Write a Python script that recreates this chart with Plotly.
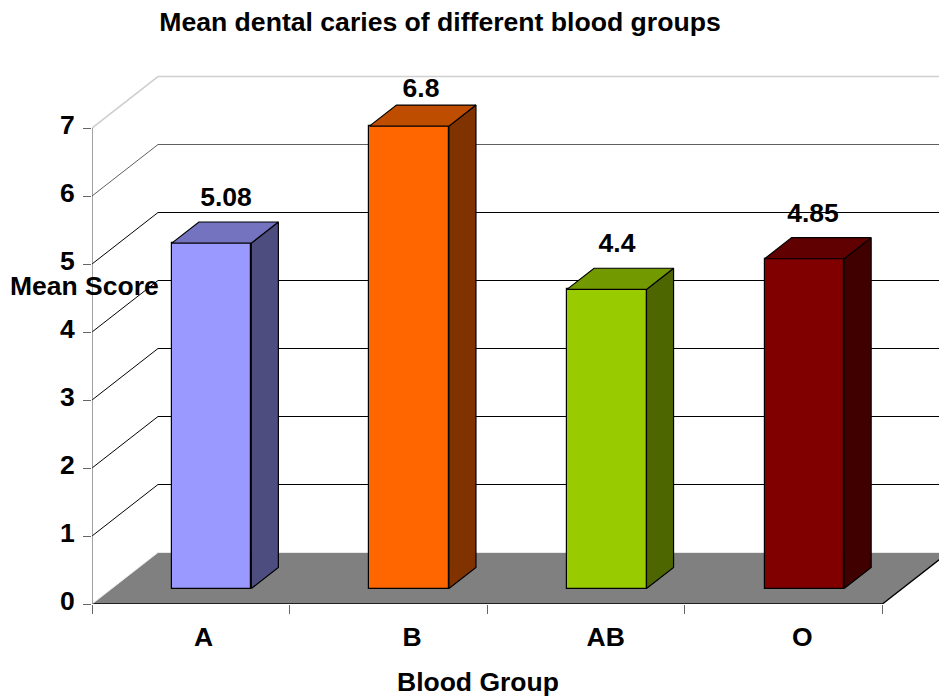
import plotly.graph_objects as go

categories = ["A", "B", "AB", "O"]
values = [5.08, 6.8, 4.4, 4.85]
value_labels = ["5.08", "6.8", "4.4", "4.85"]
front_colors = ["#9999FF", "#FF6600", "#99CC00", "#800000"]
side_colors = ["#4D4D80", "#803300", "#4D6600", "#400000"]
top_colors = ["#7373BF", "#BF4D00", "#739900", "#600000"]
y_ticks = [0, 1, 2, 3, 4, 5, 6, 7]
label_raise = [0.33, 0.22, 0.33, 0.33]
label_xs = [0.678, 1.665, 2.657, 3.649]
label_positions = [0.565, 1.62, 2.60, 3.595]

FONT = "Liberation Sans"
PX_X = 197.6
PX_Y = 68.0
DX = 66 / PX_X      # full floor depth, in x units
DY = 51.5 / PX_Y    # full floor depth, in y units
BAR_D0 = 0.30       # bar front depth
BAR_D1 = 0.71       # bar back depth
BAR_W = 79.5 / PX_X
BAR_C = 0.105       # front-face centre offset from category centre

L, T, B = 92, 61, 92
X_MAX = (939 - L) / PX_X
Y_MAX = (696 - B - T) / PX_Y
n = len(categories)


def proj(x, v, d):
    return x + d * DX, v + d * DY


def wall_shape(pts, **kw):
    path = "M " + " L ".join(f"{a:.4f},{b:.4f}" for a, b in pts)
    return dict(type="path", path=path, xref="x", yref="y", layer="below", **kw)


def px_x(px):
    return (px - L) / (939 - L)


def px_y(py):
    return (696 - B - py) / (696 - B - T)


shapes = []
# floor
fl = [proj(0, 0, 0), proj(n, 0, 0), proj(n, 0, 1), proj(0, 0, 1)]
shapes.append(wall_shape(fl + [fl[0]], fillcolor="#808080", line=dict(width=0)))
# floor front and right edge
shapes.append(wall_shape([proj(0, 0, 0), proj(n, 0, 0), proj(n, 0, 1)], line=dict(color="#000", width=1.4)))
# wall gridlines
for v in y_ticks[1:]:
    col = "#D0D0D0" if v == 7 else ("#606060" if v == 6 else "#000000")
    shapes.append(wall_shape([proj(0, v, 0), proj(0, v, 1), proj(X_MAX + 1, v, 1)],
                             line=dict(color=col, width=1 if v != 7 else 1.6)))
# floor back edge
shapes.append(wall_shape([proj(0, 0, 0), proj(0, 0, 1), proj(X_MAX + 1, 0, 1)],
                         line=dict(color="#E8E8E8", width=1)))
# value axis
shapes.append(wall_shape([proj(0, 0, 0), proj(0, 7, 0)], line=dict(color="#444", width=1)))

fig = go.Figure()

centers = [i + 0.5 + BAR_C for i in range(n)]
base = BAR_D0 * DY
fig.add_trace(go.Bar(
    x=[c for c in centers],
    y=values,
    base=base,
    width=BAR_W,
    marker=dict(color=front_colors, line=dict(color="#000", width=1.2)),
    xaxis="x", yaxis="y", showlegend=False, hoverinfo="skip",
))

ddx = (BAR_D1 - BAR_D0) * DX
ddy = (BAR_D1 - BAR_D0) * DY
for i, v in enumerate(values):
    xl = centers[i] - BAR_W / 2
    xr = centers[i] + BAR_W / 2
    yb = base
    yt = base + v
    # side
    fig.add_trace(go.Scatter(
        x=[xr, xr + ddx, xr + ddx, xr, xr], y=[yb, yb + ddy, yt + ddy, yt, yb],
        mode="lines", fill="toself", fillcolor=side_colors[i],
        line=dict(color="#000", width=1.2), showlegend=False, hoverinfo="skip"))
    # top
    fig.add_trace(go.Scatter(
        x=[xl, xr, xr + ddx, xl + ddx, xl], y=[yt, yt, yt + ddy, yt + ddy, yt],
        mode="lines", fill="toself", fillcolor=top_colors[i],
        line=dict(color="#000", width=1.2), showlegend=False, hoverinfo="skip"))

tick_font = dict(family=FONT, size=26.5, color="#000", weight="bold")

fig.add_trace(go.Scatter(
    x=label_xs,
    y=[base + v + ddy + r for v, r in zip(values, label_raise)],
    mode="text", text=value_labels,
    textfont=tick_font,
    showlegend=False, hoverinfo="skip", cliponaxis=False))

fig.update_layout(
    width=939, height=696,
    margin=dict(l=L, r=0, t=T, b=B, pad=0),
    paper_bgcolor="#fff", plot_bgcolor="#fff",
    bargap=0,
    shapes=shapes,
    title=dict(text="Mean dental caries of different blood groups",
               x=440 / 939, y=1 - 22 / 696, xanchor="center", yanchor="middle",
               font=dict(family=FONT, size=26.6, color="#000", weight="bold")),
    xaxis=dict(range=[0, X_MAX], tickmode="array", tickvals=list(range(n + 1)),
               ticktext=[""] * (n + 1), ticks="outside", ticklen=9, tickcolor="#666",
               tickwidth=1, showgrid=False, zeroline=False, showline=False),
    xaxis2=dict(range=[0, X_MAX], overlaying="x", side="bottom", anchor="y",
                tickmode="array", tickvals=label_positions, ticktext=categories,
                ticks="", showgrid=False, zeroline=False, showline=False,
                tickfont=tick_font, ticklabelstandoff=14),
    yaxis=dict(range=[0, Y_MAX], tickmode="array", tickvals=y_ticks,
               ticks="outside", ticklen=8, tickcolor="#666", tickwidth=1,
               showgrid=False, zeroline=False, showline=False,
               tickfont=tick_font, ticklabelstandoff=3, ticklabelshift=-3),
    annotations=[
        dict(text="Mean Score", x=px_x(84), y=px_y(286), xref="paper", yref="paper",
             xanchor="center", yanchor="middle", showarrow=False, font=tick_font),
        dict(text="Blood Group", x=px_x(478), y=px_y(682), xref="paper", yref="paper",
             xanchor="center", yanchor="middle", showarrow=False, font=tick_font),
    ],
)
# a hidden trace keeps the overlay axis with the category labels alive
fig.add_trace(go.Scatter(x=label_positions, y=[0] * n, xaxis="x2", yaxis="y", mode="markers",
                         marker=dict(opacity=0), showlegend=False, hoverinfo="skip"))

fig.write_html("out.html", config=dict(displayModeBar=False),
               post_script="document.body.style.margin='0';")
